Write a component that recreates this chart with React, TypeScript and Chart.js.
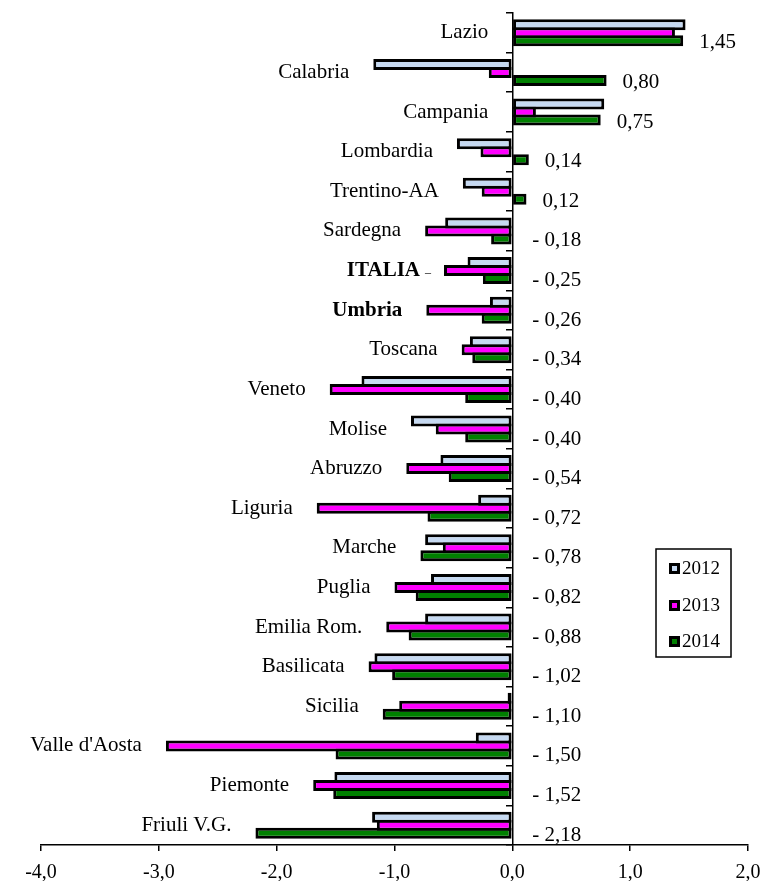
import React, { useEffect, useRef } from "react";
import { Chart, registerables } from "chart.js";

Chart.register(...registerables);

const categories = [
  "Lazio", "Calabria", "Campania", "Lombardia", "Trentino-AA", "Sardegna", "ITALIA",
  "Umbria", "Toscana", "Veneto", "Molise", "Abruzzo", "Liguria", "Marche", "Puglia",
  "Emilia Rom.", "Basilicata", "Sicilia", "Valle d'Aosta", "Piemonte", "Friuli V.G.",
];
const boldCategories = ["ITALIA", "Umbria"];

const values2012 = [
  1.47, -1.18, 0.78, -0.47, -0.42, -0.57, -0.38, -0.19, -0.36, -1.28, -0.86, -0.61,
  -0.29, -0.74, -0.69, -0.74, -1.17, -0.04, -0.31, -1.51, -1.19,
];
const values2013 = [
  1.38, -0.2, 0.2, -0.27, -0.26, -0.74, -0.58, -0.73, -0.43, -1.55, -0.65, -0.9,
  -1.66, -0.59, -1.0, -1.07, -1.22, -0.96, -2.94, -1.69, -1.15,
];
const values2014 = [
  1.45, 0.8, 0.75, 0.14, 0.12, -0.18, -0.25, -0.26, -0.34, -0.4, -0.4, -0.54,
  -0.72, -0.78, -0.82, -0.88, -1.02, -1.1, -1.5, -1.52, -2.18,
];
const seriesNames = ["2012", "2013", "2014"];
const seriesColors = ["#C6D9F1", "#FF00FF", "#008000"];
const xTicks = [-4, -3, -2, -1, 0, 1, 2];

const FONT = '"Liberation Serif", "Times New Roman", serif';

const fmtComma = (v: number, d: number) => v.toFixed(d).replace(".", ",");

const labelsPlugin = {
  id: "customLabels",
  afterDatasetsDraw(chart: any) {
    const ctx = chart.ctx;
    const xs = chart.scales.x;
    const ys = chart.scales.y;
    const meta2014 = chart.getDatasetMeta(2);
    ctx.save();
    ctx.fillStyle = "#000";
    categories.forEach((cat, i) => {
      const yc = ys.getPixelForValue(i);
      const mn = Math.min(0, values2012[i], values2013[i], values2014[i]);
      const bold = boldCategories.includes(cat);
      ctx.font = (bold ? "bold " : "") + "21px " + FONT;
      ctx.textAlign = "right";
      ctx.textBaseline = "middle";
      ctx.fillText(cat, xs.getPixelForValue(mn) - 24, yc);

      const v = values2014[i];
      const bar = meta2014.data[i];
      const txt = v < 0 ? "- " + fmtComma(Math.abs(v), 2) : fmtComma(v, 2);
      ctx.font = "21px " + FONT;
      ctx.textAlign = "left";
      const xp = v >= 0 ? xs.getPixelForValue(v) + 16 : xs.getPixelForValue(0) + 20;
      ctx.fillText(txt, xp, bar.y + 2);
    });
    // small stray dash next to ITALIA
    const iIt = categories.indexOf("ITALIA");
    ctx.font = "12px " + FONT;
    ctx.textAlign = "center";
    ctx.fillText("_", 428, ys.getPixelForValue(iIt) - 2);
    ctx.restore();
  },
  afterDraw(chart: any) {
    const ctx = chart.ctx;
    const area = chart.chartArea;
    const right = area.right - 17;
    const left = right - 75;
    const top = 549;
    const bottom = 657;
    ctx.save();
    ctx.fillStyle = "#fff";
    ctx.fillRect(left, top, right - left, bottom - top);
    ctx.strokeStyle = "#000";
    ctx.lineWidth = 1.5;
    ctx.strokeRect(left, top, right - left, bottom - top);
    const rows = [568, 605, 641];
    seriesNames.forEach((name, k) => {
      const yc = rows[k];
      ctx.fillStyle = "#000";
      ctx.fillRect(left + 13, yc - 5, 11, 11);
      ctx.fillStyle = seriesColors[k];
      ctx.fillRect(left + 16, yc - 2, 5, 5);
      ctx.fillStyle = "#000";
      ctx.font = "19px " + FONT;
      ctx.textAlign = "left";
      ctx.textBaseline = "middle";
      ctx.fillText(name, left + 26, yc + 1);
    });
    ctx.restore();
  },
};

export default function App() {
  const ref = useRef<HTMLCanvasElement | null>(null);
  useEffect(() => {
    document.body.style.margin = "0";
    if (!ref.current) return;
    const chart = new Chart(ref.current, {
      type: "bar",
      data: {
        labels: categories,
        datasets: [values2012, values2013, values2014].map((vals, k) => ({
          label: seriesNames[k],
          data: vals,
          backgroundColor: seriesColors[k],
          borderColor: "#000",
          borderWidth: 3,
          borderSkipped: false,
          categoryPercentage: 0.606,
          barPercentage: 1.375,
        })),
      },
      options: {
        indexAxis: "y",
        animation: false,
        responsive: false,
        maintainAspectRatio: false,
        layout: { padding: { left: 41, right: 15, top: 13, bottom: 0 } },
        plugins: { legend: { display: false }, tooltip: { enabled: false } },
        scales: {
          x: {
            type: "linear",
            min: -4,
            max: 2,
            afterBuildTicks: (s: any) => {
              s.ticks = xTicks.map((v) => ({ value: v }));
            },
            afterFit: (s: any) => {
              s.height = 36;
            },
            ticks: {
              color: "#000",
              font: { family: FONT, size: 20, lineHeight: 2.0 },
              padding: 2,
              maxRotation: 0,
              callback: (v: any) => fmtComma(Number(v), 1),
            },
            grid: {
              drawOnChartArea: false,
              drawTicks: true,
              tickLength: 6,
              color: "#000",
              lineWidth: 1.5,
            },
            border: { display: true, color: "#000", width: 1.5 },
          },
          y: {
            position: { x: 0 } as any,
            ticks: { display: false },
            grid: {
              offset: true,
              drawOnChartArea: false,
              drawTicks: true,
              tickLength: 6,
              color: "#000",
              lineWidth: 1.5,
            },
            border: { display: true, color: "#000", width: 1.5 },
          },
        },
      },
      plugins: [labelsPlugin],
    } as any);
    return () => chart.destroy();
  }, []);
  return (
    <div style={{ width: 763, height: 881, background: "#fff" }}>
      <canvas ref={ref} width={763} height={881} style={{ display: "block" }} />
    </div>
  );
}
